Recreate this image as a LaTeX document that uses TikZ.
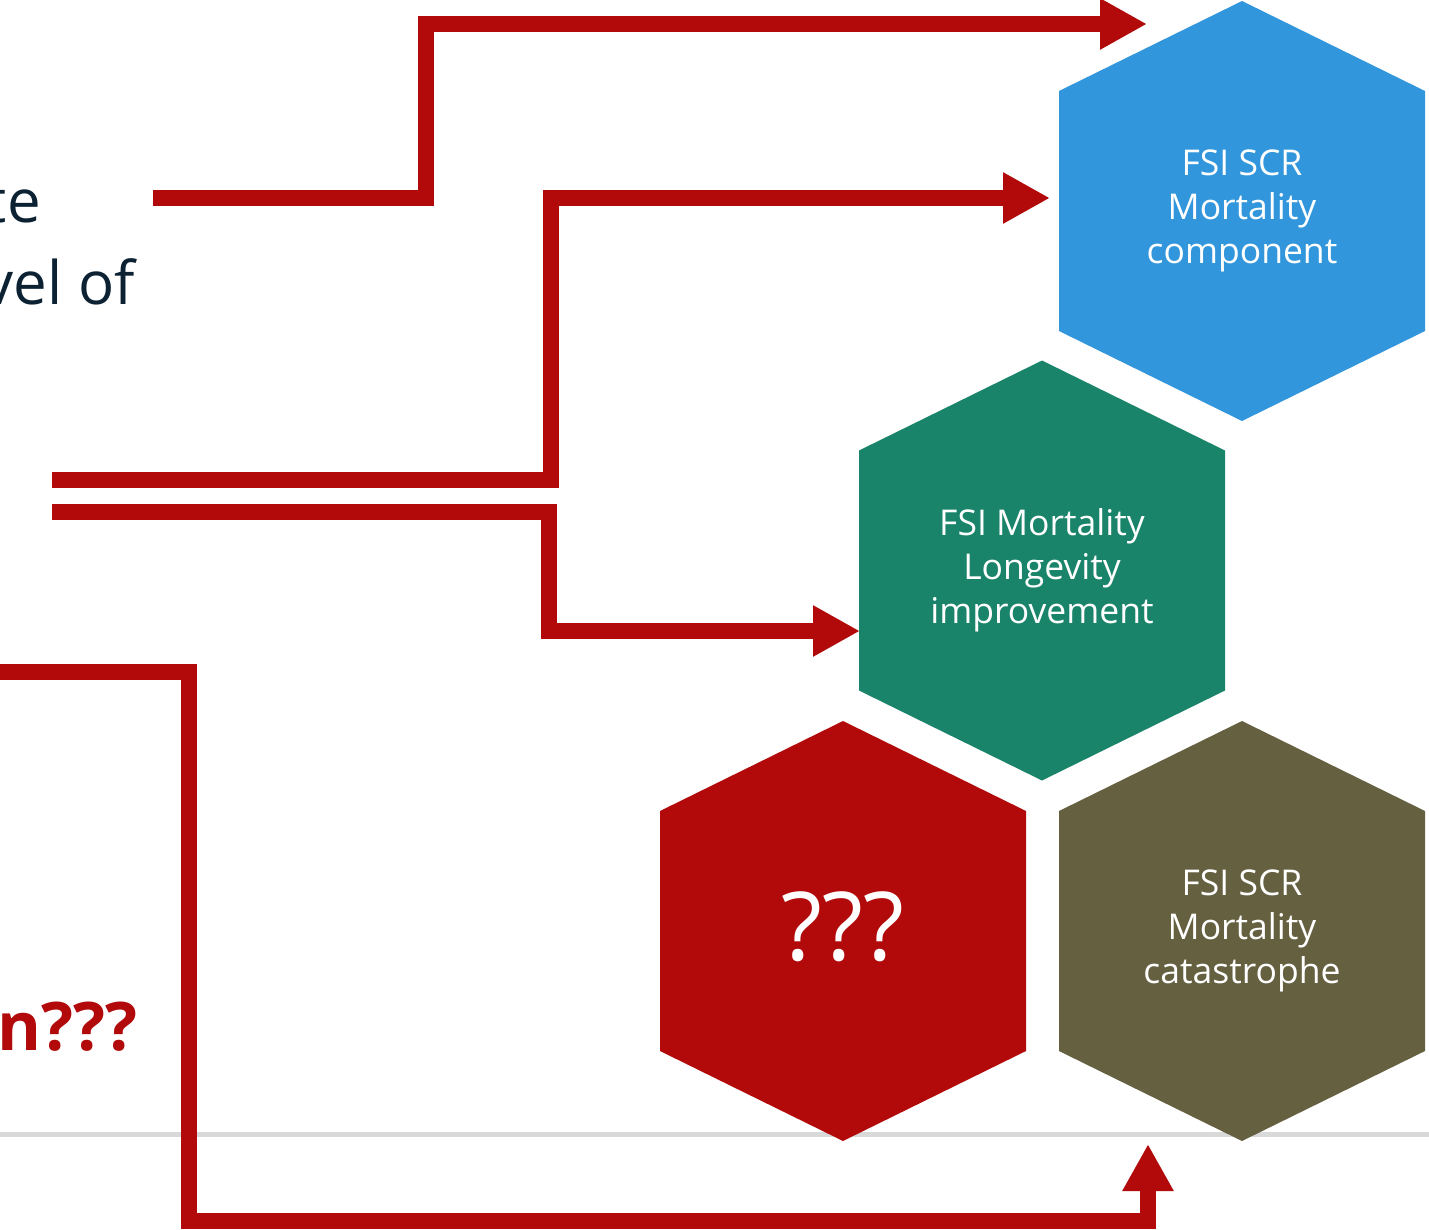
\documentclass[tikz,border=0pt]{standalone}
\usepackage{fontspec}
\setmainfont{Open Sans}
\usetikzlibrary{arrows.meta}
\definecolor{panahmerah}{RGB}{178,10,10}
\definecolor{hexbiru}{RGB}{50,150,220}
\definecolor{hexhijau}{RGB}{26,132,106}
\definecolor{hexzaitun}{RGB}{101,96,64}
\definecolor{teksgelap}{RGB}{12,34,51}
\tikzset{
  hexnode/.style={rectangle, minimum width=366pt, minimum height=420pt,
    inner sep=0pt, text=white, align=center,
    font=\fontsize{35.5}{44}\selectfont,
    path picture={\fill[#1] (path picture bounding box.north)
      -- ([yshift=-90pt]path picture bounding box.north east)
      -- ([yshift=90pt]path picture bounding box.south east)
      -- (path picture bounding box.south)
      -- ([yshift=90pt]path picture bounding box.south west)
      -- ([yshift=-90pt]path picture bounding box.north west) -- cycle;}},
  flow/.style={panahmerah, line width=16pt,
    -{Triangle[length=47pt,width=48pt]}},
}
\begin{document}
\begin{tikzpicture}[x=1pt,y=-1pt]
    \useasboundingbox (0,0) rectangle (1429,1229);
    \clip (0,0) rectangle (1429,1229);
    % Garis abu-abu
    \draw[gray!30, line width=5pt] (0,1134) -- (1429,1134);
    % Heksagon
    \node[hexnode=hexbiru] (scr) at (1242,211) {FSI SCR\\Mortality\\component};
    \node[hexnode=hexhijau] (longev) at (1042,570.5) {FSI Mortality\\Longevity\\improvement};
    \node[hexnode=panahmerah, font=\fontsize{95}{100}\selectfont, text depth=10pt] (tanya) at (843,931) {???};
    \node[hexnode=hexzaitun] (cat) at (1242,931) {FSI SCR\\Mortality\\catastrophe};
    % Teks kiri
    \node[anchor=base east, inner sep=0pt, text=teksgelap, font=\fontsize{60}{80}\selectfont] (t1) at (41,222) {te};
    \node[anchor=base east, inner sep=0pt, text=teksgelap, font=\fontsize{60}{80}\selectfont] (t2) at (135,304) {vel of};
    \node[anchor=base east, inner sep=0pt, text=panahmerah, font=\bfseries\fontsize{67}{80}\selectfont] (t3) at (138,1050) {n???};
    % Titik awal dan ujung panah
    \coordinate (a1) at (153,198);
    \coordinate (e1) at (1147,24);
    \coordinate (a2) at (52,480);
    \coordinate (e2) at (1050,198);
    \coordinate (a3) at (52,512);
    \coordinate (e3) at (860,631);
    \coordinate (a4) at (0,672);
    \coordinate (e4) at (1148,1144);
    % Panah
    \draw[flow] (a1) -- (426,198) -- (426,24) -- (e1);
    \draw[flow] (a2) -- (551,480) -- (551,198) -- (e2);
    \draw[flow] (a3) -- (549,512) -- (549,631) -- (e3);
    \draw[flow] (a4) -- (189,672) -- (189,1221) -- (1148,1221) -- (e4);
\end{tikzpicture}
\end{document}
